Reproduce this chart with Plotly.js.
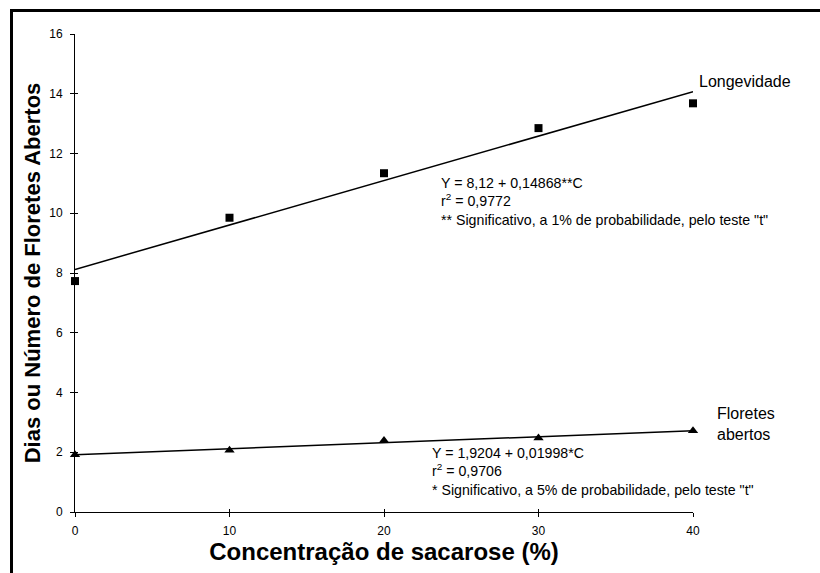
<!DOCTYPE html>
<html>
<head>
<meta charset="utf-8">
<script src="https://cdn.plot.ly/plotly-3.0.1.min.js"></script>
<style>
html, body { margin: 0; padding: 0; background: #fff; overflow: hidden; width: 820px; height: 573px; }
#chart { position: absolute; left: 0; top: 0; width: 820px; height: 573px; }
#frame { position: absolute; left: 10px; top: 9px; width: 850px; height: 600px;
         border-left: 3px solid #000; border-top: 3px solid #000; pointer-events: none; }
</style>
</head>
<body>
<div id="chart"></div>
<div id="frame"></div>
<script>
// Data
const concentracao = [0, 10, 20, 30, 40];
const longevidade = [7.73, 9.85, 11.34, 12.85, 13.68];
const floretesAbertos = [1.92, 2.07, 2.39, 2.48, 2.72];
const fitX = [0, 40];
const fitLongevidade = [8.12, 14.07];
const fitFloretes = [1.92, 2.72];
const xTickVals = [0, 10, 20, 30, 40];
const yTickVals = [0, 2, 4, 6, 8, 10, 12, 14, 16];

const FONT = 'Liberation Sans, Arial, sans-serif';

const traces = [
  { x: fitX, y: fitLongevidade, mode: 'lines', line: { color: '#000', width: 1.5 },
    showlegend: false, hoverinfo: 'skip', cliponaxis: false },
  { x: fitX, y: fitFloretes, mode: 'lines', line: { color: '#000', width: 1.5 },
    showlegend: false, hoverinfo: 'skip', cliponaxis: false },
  { x: concentracao, y: longevidade, mode: 'markers', name: 'Longevidade',
    marker: { symbol: 'square', size: 8, color: '#000' }, showlegend: false, cliponaxis: false },
  { x: concentracao, y: floretesAbertos, mode: 'markers', name: 'Floretes abertos',
    marker: { symbol: 'triangle-up', size: 9, color: '#000' }, showlegend: false, cliponaxis: false },
  // invisible trace on secondary axes to draw the "inside" half of the cross ticks
  { x: concentracao, y: longevidade, xaxis: 'x2', yaxis: 'y2', mode: 'markers',
    marker: { opacity: 0 }, showlegend: false, hoverinfo: 'skip' }
];

const layout = {
  width: 820, height: 573,
  paper_bgcolor: '#fff', plot_bgcolor: '#fff',
  margin: { l: 75, r: 127, t: 34, b: 61 },
  font: { family: FONT, color: '#000' },
  showlegend: false,
  xaxis: {
    range: [0, 40], tickvals: xTickVals, ticktext: xTickVals.map(String),
    showgrid: false, zeroline: false, showline: true, linecolor: '#000', linewidth: 1,
    ticks: 'outside', ticklen: 4, tickcolor: '#000', tickwidth: 1,
    ticklabelstandoff: 4,
    tickfont: { size: 12, family: FONT, color: '#000' },
    automargin: false,
    title: { text: '<b>Concentração de sacarose (%)</b>', font: { size: 24, family: FONT, color: '#000' }, standoff: 5 }
  },
  yaxis: {
    range: [0, 16], tickvals: yTickVals, ticktext: yTickVals.map(String),
    showgrid: false, zeroline: false, showline: true, linecolor: '#000', linewidth: 1,
    ticks: 'outside', ticklen: 4, tickcolor: '#000', tickwidth: 1,
    ticklabelstandoff: 5,
    tickfont: { size: 12, family: FONT, color: '#000' },
    automargin: false,
    title: { text: '<b>Dias ou Número de Floretes Abertos</b>', font: { size: 22, family: FONT, color: '#000' }, standoff: 2 }
  },
  xaxis2: { overlaying: 'x', matches: 'x', range: [0, 40], tickvals: xTickVals, showticklabels: false,
    ticks: 'inside', ticklen: 3, tickcolor: '#000', showgrid: false, zeroline: false, showline: false, side: 'bottom' },
  yaxis2: { overlaying: 'y', matches: 'y', range: [0, 16], tickvals: yTickVals, showticklabels: false,
    ticks: 'inside', ticklen: 3, tickcolor: '#000', showgrid: false, zeroline: false, showline: false, side: 'left' },
  annotations: [
    { x: 1.0065, y: 0.8996, xref: 'paper', yref: 'paper', xanchor: 'left', yanchor: 'middle', showarrow: false,
      text: 'Longevidade', font: { size: 16, family: FONT, color: '#000' } },
    { x: 1.0356, y: 0.185, xref: 'paper', yref: 'paper', xanchor: 'left', yanchor: 'middle', align: 'left', showarrow: false,
      text: 'Floretes<br>abertos', font: { size: 16, family: FONT, color: '#000' } },
    { x: 23.55, y: 10.39, xref: 'x', yref: 'y', xanchor: 'left', yanchor: 'middle', align: 'left', showarrow: false,
      text: 'Y = 8,12 + 0,14868**C<br>r<sup>2</sup> = 0,9772<br>** Significativo, a 1% de probabilidade, pelo teste "t"',
      font: { size: 14.2, family: FONT, color: '#000' } },
    { x: 23.0, y: 1.37, xref: 'x', yref: 'y', xanchor: 'left', yanchor: 'middle', align: 'left', showarrow: false,
      text: 'Y = 1,9204 + 0,01998*C<br>r<sup>2</sup> = 0,9706<br>* Significativo, a 5% de probabilidade, pelo teste "t"',
      font: { size: 14.2, family: FONT, color: '#000' } }
  ]
};

Plotly.newPlot('chart', traces, layout, { staticPlot: true, displayModeBar: false });
</script>
</body>
</html>
